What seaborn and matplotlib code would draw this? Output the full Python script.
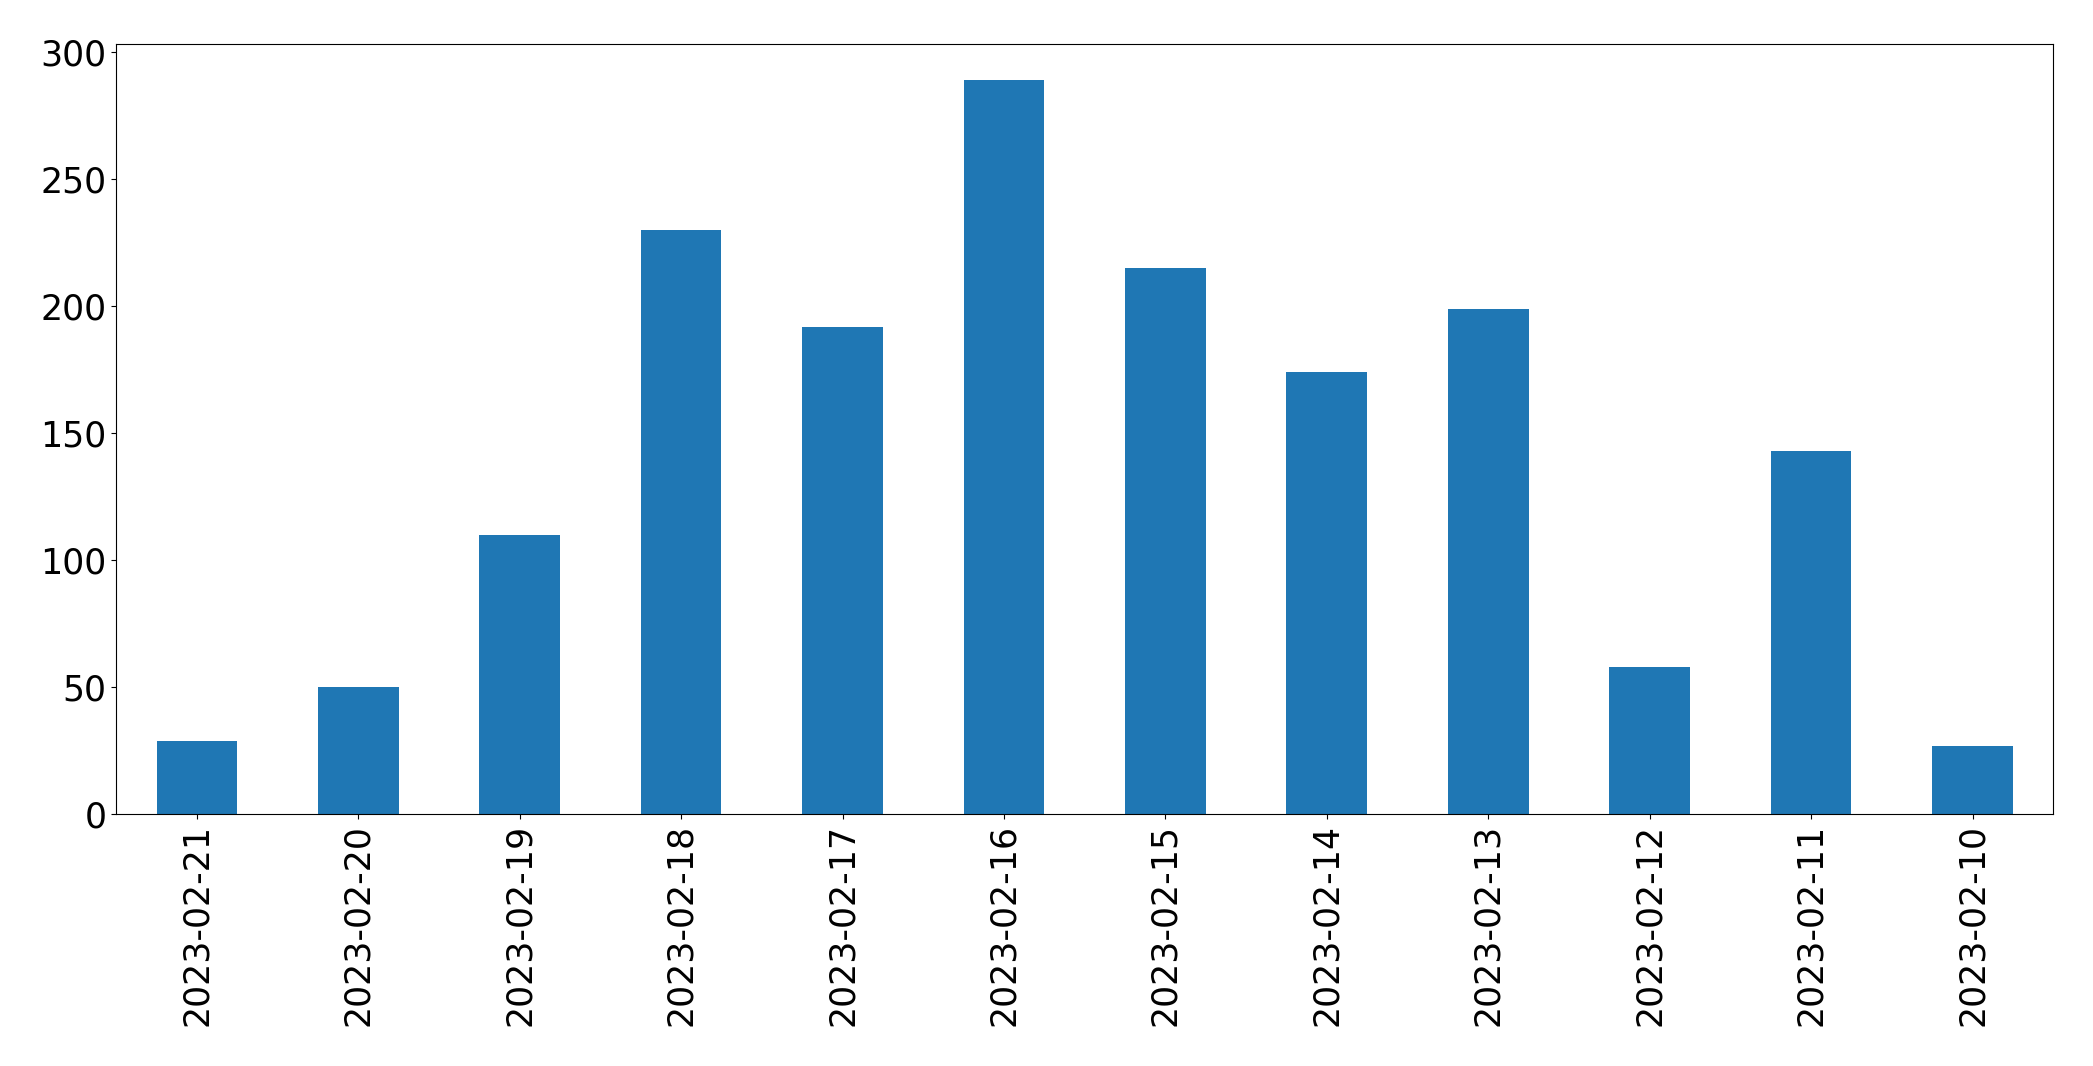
import matplotlib

matplotlib.use("Agg")
import matplotlib.pyplot as plt
import pandas as pd
import seaborn as sns

dates = [
    "2023-02-21",
    "2023-02-20",
    "2023-02-19",
    "2023-02-18",
    "2023-02-17",
    "2023-02-16",
    "2023-02-15",
    "2023-02-14",
    "2023-02-13",
    "2023-02-12",
    "2023-02-11",
    "2023-02-10",
]
counts = [29, 50, 110, 230, 192, 289, 215, 174, 199, 58, 143, 27]

df = pd.DataFrame({"date": dates, "count": counts})

fig, ax = plt.subplots(figsize=(20.93, 10.66), dpi=100)

sns.barplot(
    data=df,
    x="date",
    y="count",
    order=dates,
    color="#1f77b4",
    saturation=1,
    width=0.5,
    ax=ax,
)

ax.set_xlim(-0.5, len(dates) - 0.5)
ax.set_xlabel("")
ax.set_ylabel("")
ax.tick_params(axis="both", labelsize=25)
ax.tick_params(axis="x", labelrotation=90)

plt.subplots_adjust(left=0.0555, right=0.981, top=0.959, bottom=0.236)
plt.savefig("out.png", dpi=100)
